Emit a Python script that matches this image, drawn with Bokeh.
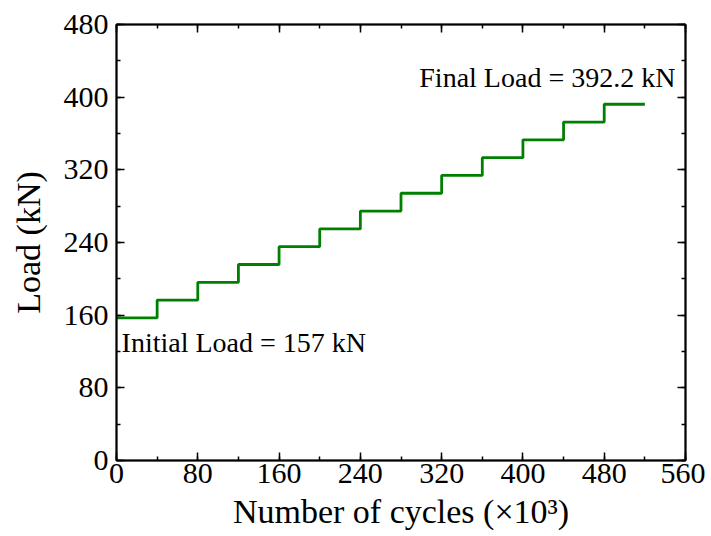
from bokeh.plotting import figure
from bokeh.models import LinearAxis, SingleIntervalTicker, Range1d, Label
from bokeh.embed import file_html
from bokeh.resources import INLINE

cycles = [0, 40, 80, 120, 160, 200, 240, 280, 320, 360, 400, 440, 480, 520]
load = [157, 176.6, 196.2, 215.8, 235.4, 255, 274.6, 294.2, 313.8, 333.4, 353, 372.6, 392.2, 392.2]
x_ticks = [0, 80, 160, 240, 320, 400, 480, 560]
y_ticks = [0, 80, 160, 240, 320, 400, 480]

FONT = "'Times New Roman', 'Liberation Serif', serif"

p = figure(width=705, height=536, output_backend="svg", toolbar_location=None,
           x_range=Range1d(0, 560), y_range=Range1d(0, 480),
           x_axis_type=None, y_axis_type=None,
           min_border_left=116, min_border_top=24, min_border_right=20, min_border_bottom=76)
p.xgrid.visible = False
p.ygrid.visible = False
p.outline_line_color = "black"
p.outline_line_width = 1.5
p.background_fill_color = "white"
p.border_fill_color = "white"

def make_axis(interval, labels, label_text=None, lstand=4, astand=2):
    ax = LinearAxis(ticker=SingleIntervalTicker(interval=interval, num_minor_ticks=2))
    ax.axis_line_width = 2
    ax.axis_line_color = "black"
    ax.major_tick_in = 8
    ax.major_tick_out = 0
    ax.minor_tick_in = 4
    ax.minor_tick_out = 0
    ax.major_tick_line_width = 1.5
    ax.minor_tick_line_width = 1.5
    if labels:
        ax.major_label_text_font = FONT
        ax.major_label_text_font_size = "30px"
        ax.major_label_text_color = "black"
        ax.major_label_standoff = lstand
    else:
        ax.major_label_text_font_size = "0px"
        ax.major_label_text_alpha = 0
    if label_text:
        ax.axis_label = label_text
        ax.axis_label_text_font = FONT
        ax.axis_label_text_font_size = "34px"
        ax.axis_label_text_font_style = "normal"
        ax.axis_label_text_color = "black"
        ax.axis_label_standoff = astand
    return ax

p.add_layout(make_axis(80, True, "Number of cycles (×10³)", lstand=3, astand=7), "below")
p.add_layout(make_axis(80, True, "Load (kN)", lstand=8, astand=14), "left")
p.add_layout(make_axis(80, False), "above")
p.add_layout(make_axis(80, False), "right")

p.step(cycles, load, mode="after", line_color="#008000", line_width=2.8)

p.add_layout(Label(x=5, y=130, text="Initial Load = 157 kN", text_font=FONT,
                   text_font_size="28px", text_color="black", text_baseline="alphabetic"))
p.add_layout(Label(x=298, y=422, text="Final Load = 392.2 kN", text_font=FONT,
                   text_font_size="28px", text_color="black", text_baseline="alphabetic"))

open("out.html", "w").write(file_html(p, INLINE))
